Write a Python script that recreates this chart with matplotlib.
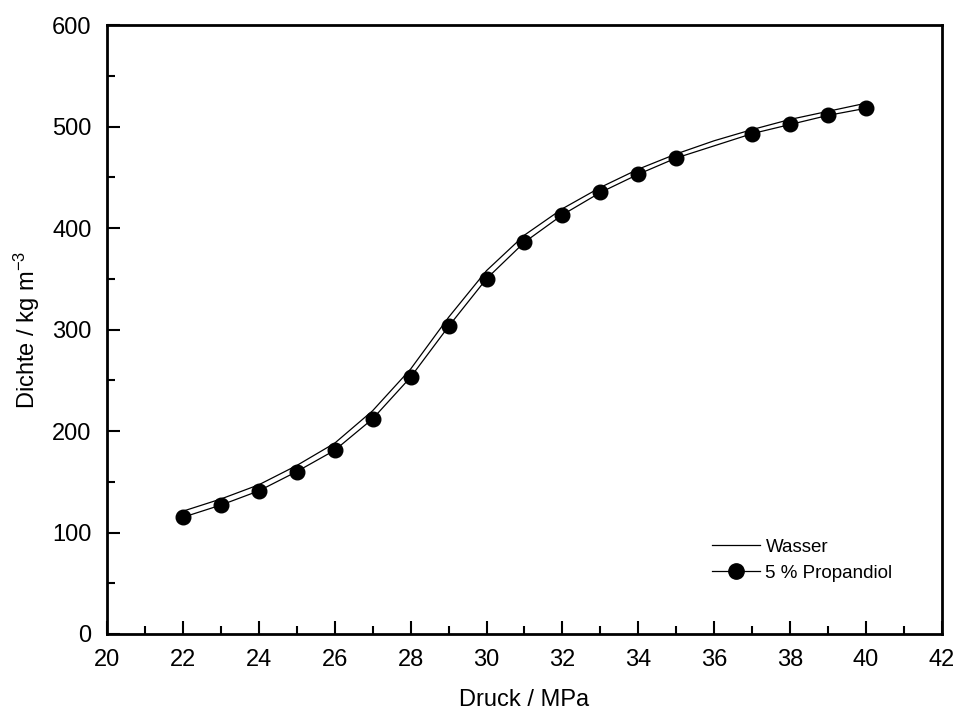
import numpy as np
import matplotlib.pyplot as plt
from matplotlib.ticker import MultipleLocator

plt.rcParams['font.family'] = ['Liberation Sans', 'DejaVu Sans']
plt.rcParams['mathtext.default'] = 'regular'

# pressure in MPa, density in kg/m^3
p_wasser = [22, 23, 24, 25, 26, 27, 28, 29, 30, 31, 32, 33, 34, 35, 36, 37, 38, 39, 40]
rho_wasser = [121, 133, 147, 166, 188, 220, 261, 312, 358, 393, 419, 440, 458, 473, 486, 497, 507, 515, 523]

p_prop = [22, 23, 24, 25, 26, 27, 28, 29, 30, 31, 32, 33, 34, 35, 37, 38, 39, 40]
rho_prop = [115, 127, 141, 160, 181, 212, 253, 303, 350, 386, 413, 435, 453, 469, 493, 502, 511, 518]

fig = plt.figure(figsize=(9.56, 7.11), dpi=100)
ax = fig.add_axes([0.1119, 0.1083, 0.8734, 0.8565])

ax.plot(p_wasser, rho_wasser, color='black', lw=0.9, label='Wasser')
ax.plot(p_prop, rho_prop, color='black', lw=0.9, marker='o', ms=10.5,
        label='5 % Propandiol')

ax.set_xlim(20, 42)
ax.set_ylim(0, 600)
ax.xaxis.set_major_locator(MultipleLocator(2))
ax.xaxis.set_minor_locator(MultipleLocator(1))
ax.yaxis.set_major_locator(MultipleLocator(100))
ax.yaxis.set_minor_locator(MultipleLocator(50))
ax.tick_params(which='both', direction='in', top=False, right=False,
               width=1.5, labelsize=17)
ax.tick_params(which='major', length=9.5, pad=11)
ax.tick_params(which='minor', length=5.5)
for s in ax.spines.values():
    s.set_linewidth(2)

ax.set_xlabel('Druck / MPa', fontsize=17, labelpad=13)
ax.set_ylabel('Dichte / kg m$^{-3}$', fontsize=17, labelpad=7)

ax.legend(loc='upper left', bbox_to_anchor=(0.7246, 0.157), frameon=False,
          borderpad=0, borderaxespad=0, fontsize=13.5, handlelength=2.55,
          handletextpad=0.3, labelspacing=0.5, markerscale=1.05)

fig.savefig('out.png', dpi=100)
